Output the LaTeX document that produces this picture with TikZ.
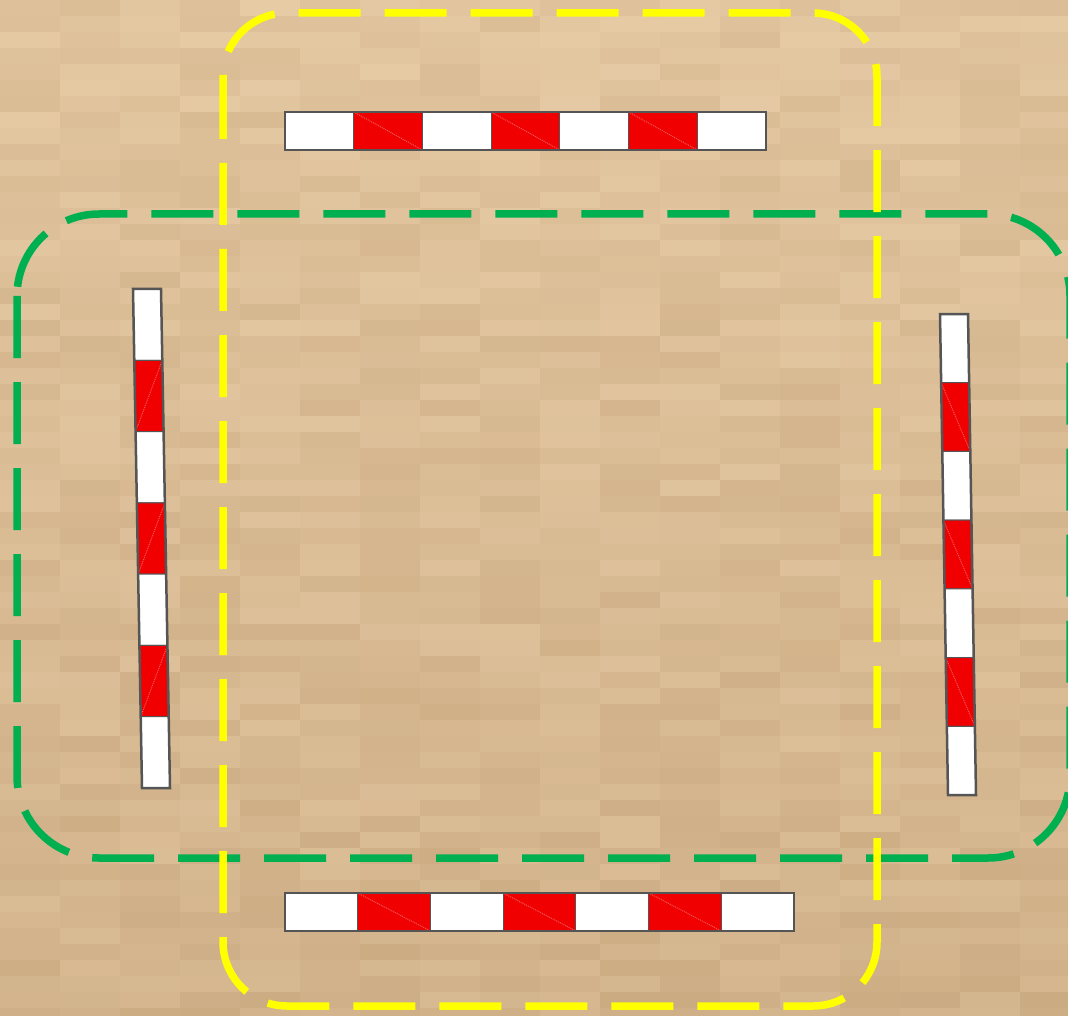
\documentclass[tikz,border=0pt]{standalone}
\usetikzlibrary{calc}
\definecolor{sandlight}{RGB}{234,207,170}
\definecolor{sanddark}{RGB}{194,160,118}
\definecolor{polered}{RGB}{240,0,0}
\definecolor{poleedge}{RGB}{85,85,85}
\definecolor{zoneyellow}{RGB}{255,255,0}
\definecolor{zonegreen}{RGB}{0,176,80}
\tikzset{
    pole seg/.style={
        draw=poleedge,
        line width=1pt
    },
    pole frame/.style={
        draw=poleedge,
        line width=2.5pt
    },
    zone/.style={
        line width=7.5pt,
        dash pattern=on 62pt off 24pt,
        rounded corners=64pt
    }
}
% striped pole: #1,#2 start, #3,#4 end, #5,#6 half-width offset
\newcommand{\pole}[6]{%
  \foreach \k in {0,...,6}{
    \pgfmathsetmacro{\sa}{\k/7}
    \pgfmathsetmacro{\sb}{(\k+1)/7}
    \pgfmathtruncatemacro{\odd}{mod(\k,2)}
    \ifnum\odd=1 \def\segcol{polered}\else\def\segcol{white}\fi
    \draw[pole seg, fill=\segcol]
      ($(#1,#2)!\sa!(#3,#4)+(#5,#6)$) -- ($(#1,#2)!\sb!(#3,#4)+(#5,#6)$)
      -- ($(#1,#2)!\sb!(#3,#4)-(#5,#6)$) -- ($(#1,#2)!\sa!(#3,#4)-(#5,#6)$) -- cycle;
    \ifnum\odd=1
      \draw[white, opacity=0.35, densely dotted, line width=1pt]
        ($(#1,#2)!\sa!(#3,#4)+(#5,#6)$) -- ($(#1,#2)!\sb!(#3,#4)-(#5,#6)$);
    \fi
  }
  \draw[pole frame] ($(#1,#2)+(#5,#6)$) -- ($(#3,#4)+(#5,#6)$)
    -- ($(#3,#4)-(#5,#6)$) -- ($(#1,#2)-(#5,#6)$) -- cycle;
}

\begin{document}
\begin{tikzpicture}[x=1pt, y=-1pt]
\useasboundingbox (0,0) rectangle (1068,1016);
\clip (0,0) rectangle (1068,1016);

% sand
\pgfmathsetseed{11}
\foreach \r in {0,...,63}{
  \foreach \c in {0,...,17}{
    \pgfmathsetmacro{\m}{8+32*rnd+38*\r/63}
    \fill[sanddark!\m!sandlight] (\c*60,\r*16) rectangle ++(60,16);
  }
}

% zones
\draw[zone, zonegreen, rounded corners=82pt] (17,214) rectangle (1070,858);
\draw[zone, zoneyellow] (223,13) rectangle (877,1006);

% poles
\pole{285}{131}{766}{131}{0}{-19}
\pole{285}{912}{794}{912}{0}{-19}
\pole{147}{289}{156}{788}{14}{0}
\pole{954}{314}{962}{795}{-14}{0}
\end{tikzpicture}
\end{document}
